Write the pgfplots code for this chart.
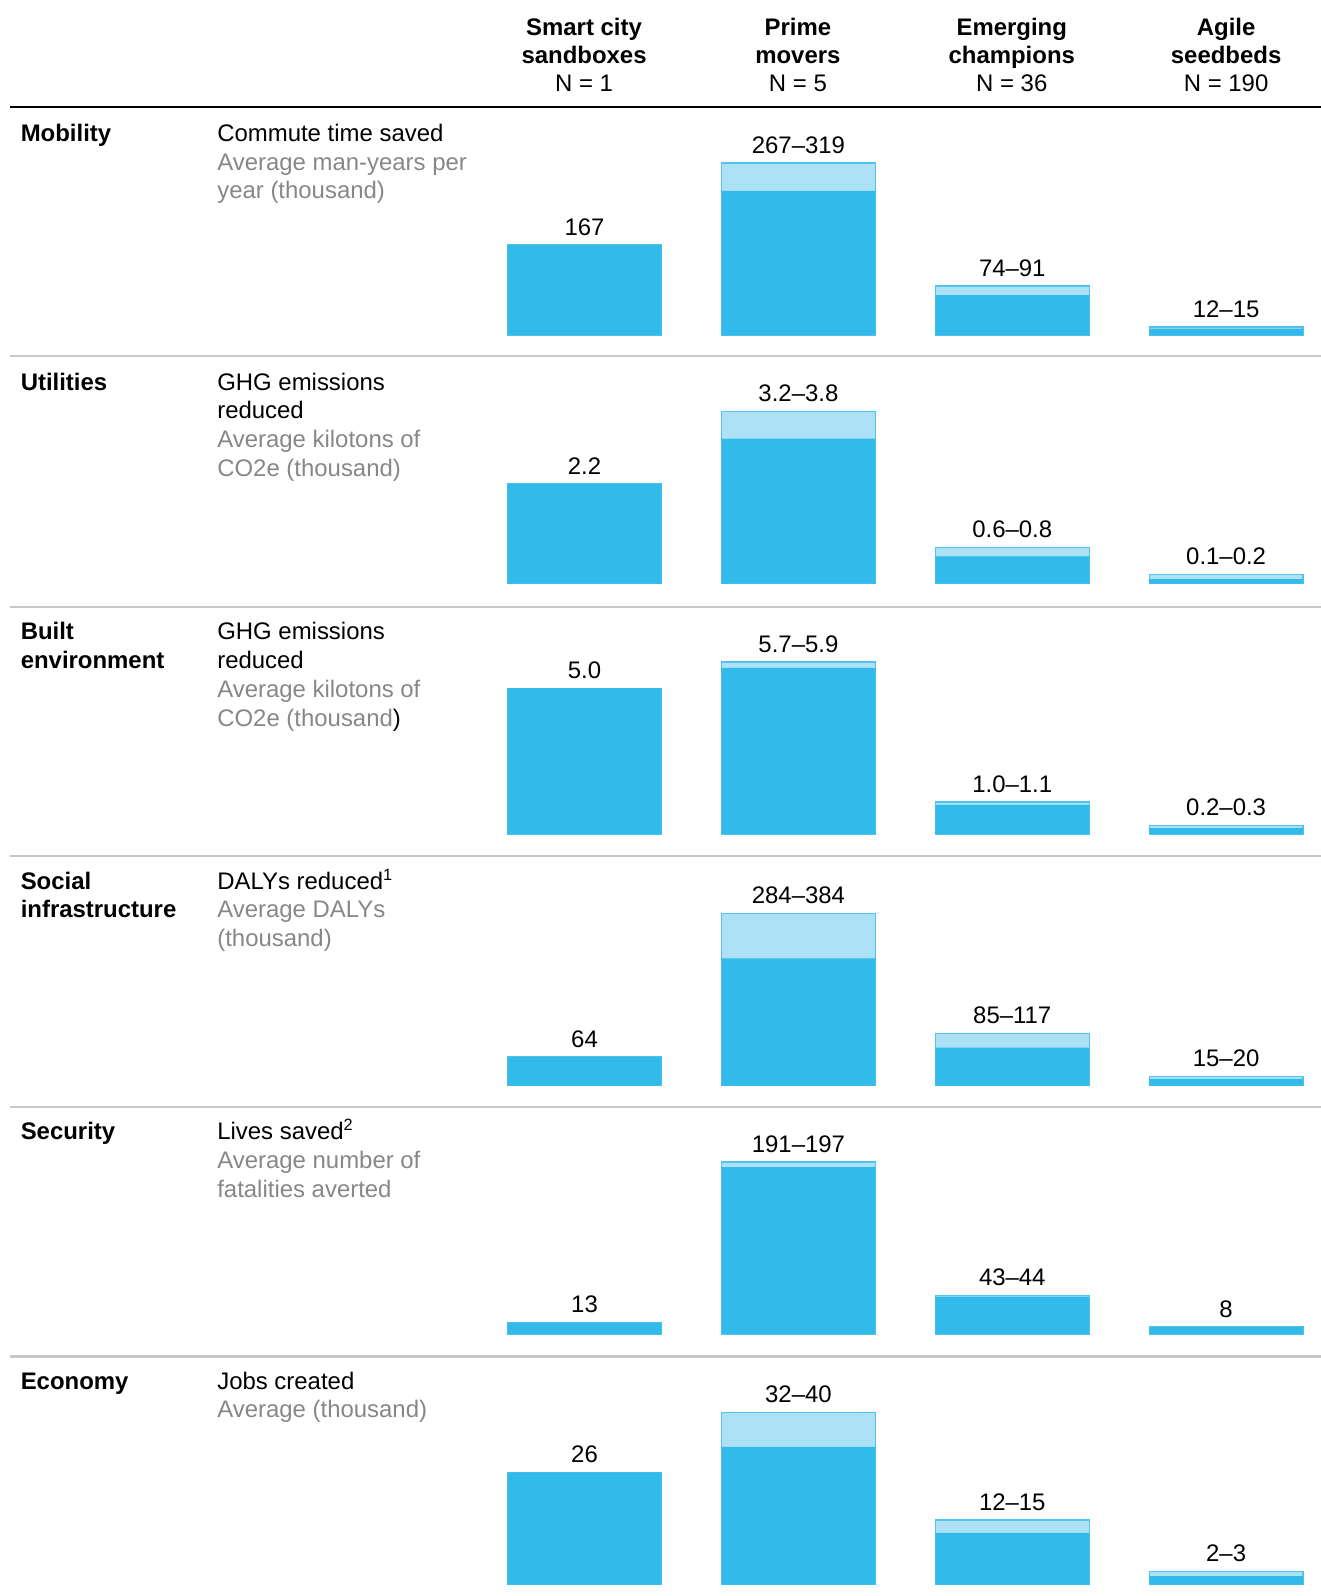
\documentclass[border=0pt]{standalone}
\usepackage{pgfplots}
\pgfplotsset{compat=1.18}
\usepackage{fontspec}
\setmainfont{Liberation Sans}
\definecolor{darkb}{RGB}{50,186,235}
\definecolor{lightb}{RGB}{173,225,246}
\definecolor{edgeb}{RGB}{80,196,238}
\definecolor{greytxt}{RGB}{135,135,135}
\definecolor{sepline}{RGB}{200,200,200}
\newcommand\fs{\fontsize{11.75}{14.2}\selectfont}
\pgfplotsset{
  rowax/.style={scale only axis, width=420pt, height=84.5pt,
    xmin=-0.5, xmax=3.5, ymin=0, hide axis, clip=false, anchor=south west},
  hibar/.style={ybar, bar width=75.5pt, bar shift=0pt, fill=lightb, draw=edgeb, line width=0.6pt},
  lobar/.style={ybar, bar width=75.5pt, bar shift=0pt, fill=darkb, draw=none},
  lab/.style={only marks, mark=none, nodes near coords, point meta=explicit symbolic,
    every node near coord/.style={font=\fs, anchor=south, inner sep=0pt, yshift=4.5pt, text=black}},
}
\begin{document}
\begin{tikzpicture}
% header
\foreach \x/\a/\b/\n in {286.75pt/Smart city/sandboxes/1, 391.75pt/Prime/movers/5, 496.75pt/Emerging/champions/36, 602pt/Agile/seedbeds/190}{
  \node[anchor=base, font=\fs\bfseries, inner sep=0pt] at (\x,-17.5pt) {\a};
  \node[anchor=base, font=\fs\bfseries, inner sep=0pt] at (\x,-31.25pt) {\b};
  \node[anchor=base, font=\fs, inner sep=0pt] at (\x,-45pt) {N = \n};
}
\draw[black, line width=1pt] (5pt,-52.5pt) -- (660pt,-52.5pt);
\foreach \y in {175,298,420.5,543.5,666}{
  \draw[sepline, line width=1pt] (5pt,-\y pt) -- (660pt,-\y pt);
}
% row labels
\begin{scope}[every node/.style={anchor=base west, inner sep=0pt, font=\fs}]
\node[font=\fs\bfseries] at (10pt,-69.5pt) {Mobility};
\node at (106.5pt,-69.5pt) {Commute time saved};
\node[text=greytxt] at (106.5pt,-83.5pt) {Average man-years per};
\node[text=greytxt] at (106.5pt,-97.6pt) {year (thousand)};

\node[font=\fs\bfseries] at (10pt,-191.5pt) {Utilities};
\node at (106.5pt,-191.5pt) {GHG emissions};
\node at (106.5pt,-205.6pt) {reduced};
\node[text=greytxt] at (106.5pt,-219.7pt) {Average kilotons of};
\node[text=greytxt] at (106.5pt,-233.8pt) {CO2e (thousand)};

\node[font=\fs\bfseries] at (10pt,-314.2pt) {Built};
\node[font=\fs\bfseries] at (10pt,-328.3pt) {environment};
\node at (106.5pt,-314.2pt) {GHG emissions};
\node at (106.5pt,-328.3pt) {reduced};
\node[text=greytxt] at (106.5pt,-342.4pt) {Average kilotons of};
\node[text=greytxt] at (106.5pt,-356.5pt) {CO2e (thousand\textcolor{black}{)}};

\node[font=\fs\bfseries] at (10pt,-436.5pt) {Social};
\node[font=\fs\bfseries] at (10pt,-450.6pt) {infrastructure};
\node at (106.5pt,-436.5pt) {DALYs reduced\textsuperscript{\fontsize{8}{8}\selectfont 1}};
\node[text=greytxt] at (106.5pt,-450.6pt) {Average DALYs};
\node[text=greytxt] at (106.5pt,-464.7pt) {(thousand)};

\node[font=\fs\bfseries] at (10pt,-559.5pt) {Security};
\node at (106.5pt,-559.5pt) {Lives saved\textsuperscript{\fontsize{8}{8}\selectfont 2}};
\node[text=greytxt] at (106.5pt,-573.6pt) {Average number of};
\node[text=greytxt] at (106.5pt,-587.7pt) {fatalities averted};

\node[font=\fs\bfseries] at (10pt,-682pt) {Economy};
\node at (106.5pt,-682pt) {Jobs created};
\node[text=greytxt] at (106.5pt,-696.1pt) {Average (thousand)};
\end{scope}

% Mobility
\begin{axis}[rowax, at={(234.5pt,-164.5pt)}, ymax=319]
\addplot[hibar] coordinates {(0,167) (1,319) (2,91) (3,15)};
\addplot[lobar] coordinates {(0,167) (1,267) (2,74) (3,12)};
\addplot[lab] coordinates {(0,167)[167] (1,319)[267–319] (2,91)[74–91] (3,15)[12–15]};
\end{axis}
% Utilities
\begin{axis}[rowax, at={(234.5pt,-286.5pt)}, ymax=3.8]
\addplot[hibar] coordinates {(0,2.2) (1,3.8) (2,0.8) (3,0.2)};
\addplot[lobar] coordinates {(0,2.2) (1,3.2) (2,0.6) (3,0.1)};
\addplot[lab] coordinates {(0,2.2)[2.2] (1,3.8)[3.2–3.8] (2,0.8)[0.6–0.8] (3,0.2)[0.1–0.2]};
\end{axis}
% Built environment
\begin{axis}[rowax, at={(234.5pt,-409.5pt)}, ymax=5.9]
\addplot[hibar] coordinates {(0,5.0) (1,5.9) (2,1.1) (3,0.3)};
\addplot[lobar] coordinates {(0,5.0) (1,5.7) (2,1.0) (3,0.2)};
\addplot[lab] coordinates {(0,5.0)[5.0] (1,5.9)[5.7–5.9] (2,1.1)[1.0–1.1] (3,0.3)[0.2–0.3]};
\end{axis}
% Social infrastructure
\begin{axis}[rowax, at={(234.5pt,-533pt)}, ymax=384]
\addplot[hibar] coordinates {(0,64) (1,384) (2,117) (3,20)};
\addplot[lobar] coordinates {(0,64) (1,284) (2,85) (3,15)};
\addplot[lab] coordinates {(0,64)[64] (1,384)[284–384] (2,117)[85–117] (3,20)[15–20]};
\end{axis}
% Security
\begin{axis}[rowax, at={(234.5pt,-655pt)}, ymax=197]
\addplot[hibar] coordinates {(0,13) (1,197) (2,44) (3,8)};
\addplot[lobar] coordinates {(0,13) (1,191) (2,43) (3,8)};
\addplot[lab] coordinates {(0,13)[13] (1,197)[191–197] (2,44)[43–44] (3,8)[8]};
\end{axis}
% Economy
\begin{axis}[rowax, at={(234.5pt,-778pt)}, ymax=40]
\addplot[hibar] coordinates {(0,26) (1,40) (2,15) (3,3)};
\addplot[lobar] coordinates {(0,26) (1,32) (2,12) (3,2)};
\addplot[lab] coordinates {(0,26)[26] (1,40)[32–40] (2,15)[12–15] (3,3)[2–3]};
\end{axis}
\pgfresetboundingbox
\path[use as bounding box] (0,0) rectangle (648.1pt,-783.6pt);
\end{tikzpicture}
\end{document}
